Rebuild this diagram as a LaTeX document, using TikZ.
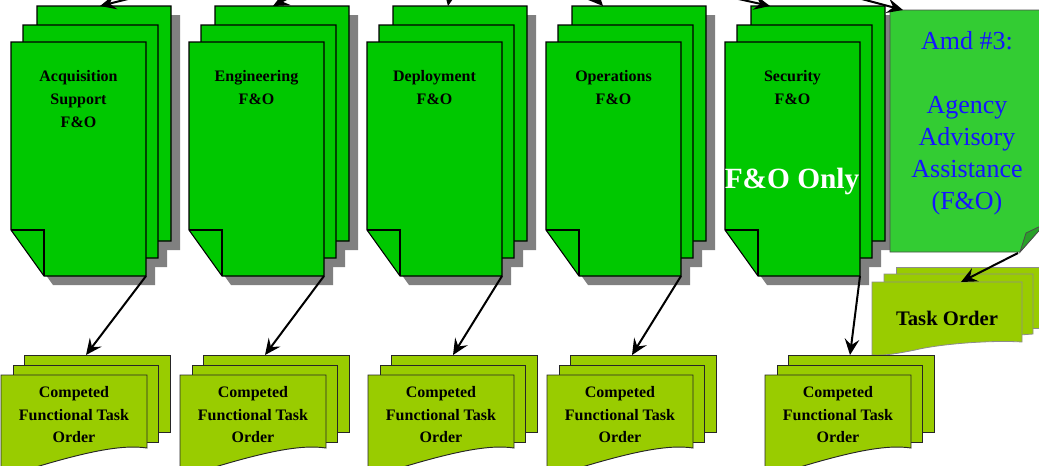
\documentclass[tikz,border=0pt]{standalone}
\usepackage{fontspec}
\setmainfont{Liberation Serif}
\usetikzlibrary{arrows.meta}
\definecolor{pagegreen}{RGB}{0,200,0}
\definecolor{amdgreen}{RGB}{51,204,51}
\definecolor{foldgreen}{RGB}{40,160,40}
\definecolor{limegreen}{RGB}{153,204,0}
\definecolor{shadowgray}{RGB}{128,128,128}
\definecolor{amdblue}{RGB}{20,20,255}
\tikzset{
  bigpage/.style={fill=pagegreen, draw=black, line width=0.8pt},
  pageshadow/.style={fill=shadowgray},
  smallpage/.style={fill=limegreen, draw=black!85, line width=0.7pt},
  taskpage/.style={fill=limegreen, draw=black!45, line width=0.6pt},
  conn/.style={line width=1.5pt, -{Stealth[length=12pt,width=11pt,inset=4.5pt]}},
  biglabel/.style={font=\bfseries\fontsize{12}{17.25}\selectfont, align=center, inner sep=0pt},
  smalllabel/.style={font=\bfseries\fontsize{12}{17}\selectfont, align=center, inner sep=0pt},
}
% folded page outline: x0, y0, x1, y1
\newcommand\FoldPage[4]{(#1,#2) -- (#3,#2) -- (#3,#4) -- ({#1+33},#4) -- (#1,{#4-46}) -- cycle}
\newcommand\BigStack[3]{%
  \begin{scope}[shift={(#1,0)}]
    \fill[pageshadow] \FoldPage{35}{15}{169}{250};
    \fill[pageshadow] \FoldPage{21}{34}{156}{267};
    \fill[pageshadow] \FoldPage{9}{51}{144}{285};
    \draw[bigpage] \FoldPage{26}{6}{160}{241};
    \draw[bigpage] \FoldPage{12}{25}{147}{258};
    \draw[bigpage] \FoldPage{0}{42}{135}{276};
    \draw[line width=0.8pt] (0,230) -- (33,230) -- (33,276);
    \node[biglabel, anchor=north] (#2) at (67.5,70) {#3};
    \coordinate (#2-br) at (135,276);
  \end{scope}}
\newcommand\SmallStack[2]{%
  \begin{scope}[shift={(#1,0)}]
    \draw[smallpage] (23,355) rectangle (169,432);
    \draw[smallpage] (12,365) rectangle (157,442);
    \draw[smallpage] (0,375) -- (146,375) -- (146,448)
       .. controls (120,444) and (80,452) .. (0,478) -- cycle;
    \node[smalllabel, anchor=north] (#2) at (73,386) {Competed\\Functional Task\\Order};
    \coordinate (#2-in) at (85,355);
  \end{scope}}
\begin{document}
\begin{tikzpicture}[x=0.75pt,y=-0.75pt]
  \useasboundingbox (0,0) rectangle (1039,465);
  \clip (0,0) rectangle (1039,465);

  % big F&O stacks
  \BigStack{11}{acq}{Acquisition\\Support\\F\&O}
  \BigStack{189}{eng}{Engineering\\F\&O}
  \BigStack{367}{dep}{Deployment\\F\&O}
  \BigStack{546}{ops}{Operations\\F\&O}
  \BigStack{725}{sec}{Security\\F\&O}
  \node[font=\bfseries\fontsize{22}{26}\selectfont, text=white, anchor=base, inner sep=0pt] (fonly) at (792,188) {F\&O Only};

  % Amd #3 page
  \draw[fill=amdgreen, draw=black!70, line width=0.6pt] (890,10) -- (1045,10) -- (1045,223) -- (1020,252) -- (890,252) -- cycle;
  \draw[fill=foldgreen, draw=black!70, line width=0.6pt] (1020,252) -- (1026,233) -- (1045,224) -- cycle;
  \node[font=\fontsize{19.5}{24}\selectfont, text=amdblue, align=center, inner sep=0pt, anchor=north] (amd) at (967,31)
    {Amd \#3:\\[24pt]Agency\\Advisory\\Assistance\\(F\&O)};
  \coordinate (amd-fold) at (1018,253);

  % Task Order stack
  \draw[taskpage] (896,267) rectangle (1050,328);
  \draw[taskpage] (884,274) -- (1033,274) -- (1033,334) -- (884,345) -- cycle;
  \draw[taskpage] (872,282) -- (1022,282) -- (1022,342)
     .. controls (990,340) and (940,344) .. (915,350) .. controls (900,353) and (885,356) .. (872,355) -- cycle;
  \node[font=\bfseries\fontsize{15.5}{18}\selectfont, anchor=base, inner sep=0pt] (task) at (947,325) {Task Order};
  \coordinate (task-in) at (961,282);

  % competed task order stacks
  \SmallStack{1}{cto1}
  \SmallStack{180}{cto2}
  \SmallStack{368}{cto3}
  \SmallStack{547}{cto4}
  \SmallStack{765}{cto5}

  % incoming arrows from above (cut off by the frame)
  \coordinate (in1) at (160,-9);  \coordinate (t1) at (100,6);
  \coordinate (in2) at (300,-8);  \coordinate (t2) at (273,6);
  \coordinate (in3) at (452,-16); \coordinate (t3) at (448,6);
  \coordinate (in4) at (588,-10); \coordinate (t4) at (603,6);
  \coordinate (in5) at (716,-6);  \coordinate (t5) at (770,6);
  \coordinate (in6) at (843,-6);  \coordinate (t6) at (903,10);
  \foreach \i in {1,...,6} { \draw[conn] (in\i) -- (t\i); }

  % connectors down to the task order stacks
  \draw[conn] (acq-br) -- (cto1-in);
  \draw[conn] (eng-br) -- (cto2-in);
  \draw[conn] (dep-br) -- (cto3-in);
  \draw[conn] (ops-br) -- (cto4-in);
  \draw[conn] (sec-br) -- (cto5-in);
  \draw[conn] (amd-fold) -- (task-in);
\end{tikzpicture}
\end{document}
